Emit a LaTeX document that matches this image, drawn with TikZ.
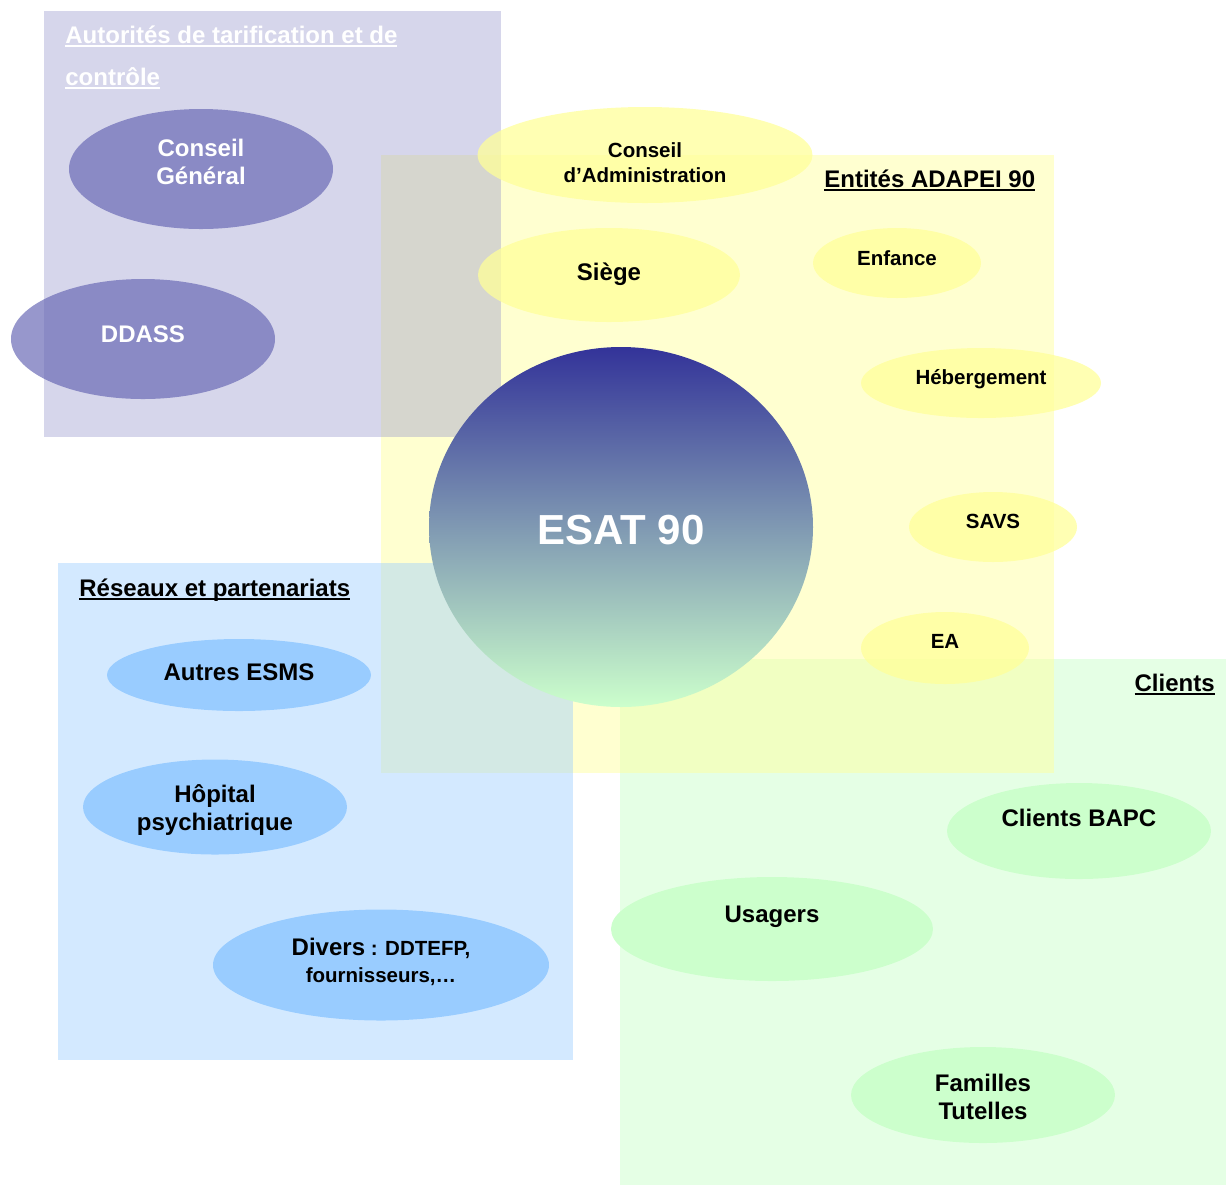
\documentclass[tikz,border=0pt]{standalone}
\usepackage{fontspec}
\setmainfont{Liberation Sans}
\usetikzlibrary{shapes.geometric}

\definecolor{authc}{HTML}{9999CC}
\definecolor{adapc}{HTML}{FFFF99}
\definecolor{resc}{HTML}{99CCFF}
\definecolor{clic}{HTML}{CCFFCC}
\definecolor{authe}{RGB}{102,102,180}
\definecolor{esattop}{HTML}{333399}

\newcommand{\ultext}[1]{\leavevmode\setbox0=\hbox{#1}\rlap{\copy0}\rule[-2pt]{\wd0}{0.9pt}}

\begin{document}
\begin{tikzpicture}[x=0.5pt,y=-0.5pt,
    bigtxt/.style={font=\fontsize{12}{14}\selectfont\bfseries},
    smalltxt/.style={font=\fontsize{10.25}{12.5}\selectfont\bfseries},
    title/.style={bigtxt,inner sep=0pt},
    blob/.style 2 args={ellipse,inner sep=0pt,minimum width=#1,minimum height=#2},
    authblob/.style={fill=authe,fill opacity=0.68},
    adapblob/.style={fill=adapc,fill opacity=0.75},
    resblob/.style={fill=resc},
    cliblob/.style={fill=clic},
    txt/.style={align=center,text opacity=1,fill=none,draw=none}]

    \useasboundingbox (0,0) rectangle (1226,1185);

    \fill[clic,fill opacity=0.5] (620,659) rectangle (1226,1185);
    \fill[adapc,fill opacity=0.46] (381,155) rectangle (1054,773);
    \fill[resc,fill opacity=0.43] (58,563) rectangle (573,1060);
    \fill[authc,fill opacity=0.4] (44,11) rectangle (501,437);

    \node[title,text=white,anchor=base west] (auth1) at (65,43) {\ultext{Autorités de tarification et de}};
    \node[title,text=white,anchor=base west] (auth2) at (65,85) {\ultext{contrôle}};
    \node[title,anchor=base west] (adap) at (824,187) {\ultext{Entités ADAPEI 90}};
    \node[title,anchor=base west] (res) at (79,596) {\ultext{Réseaux et partenariats}};
    \node[title,anchor=base east] (cli) at (1215,691) {\ultext{Clients}};

    \node[blob={132pt}{60pt},authblob,label={[txt,bigtxt,text=white,yshift=3.5pt]center:{Conseil\\Général}}] (cg) at (201,169) {};
    \node[blob={132pt}{60pt},authblob,label={[txt,bigtxt,text=white,yshift=2.5pt]center:{DDASS}}] (ddass) at (143,339) {};

    \node[blob={167.5pt}{48pt},adapblob,label={[txt,smalltxt,yshift=-3.75pt]center:{Conseil\\d’Administration}}] (ca) at (645,155) {};
    \node[blob={131pt}{47pt},adapblob,label={[txt,bigtxt,yshift=0.5pt]center:{Siège}}] (siege) at (609,275) {};
    \node[blob={84pt}{35pt},adapblob,label={[txt,smalltxt,yshift=2.5pt]center:{Enfance}}] (enf) at (897,263) {};
    \node[blob={120pt}{35pt},adapblob,label={[txt,smalltxt,yshift=2pt]center:{Hébergement}}] (heb) at (981,383) {};
    \node[blob={84pt}{35pt},adapblob,label={[txt,smalltxt,yshift=3pt]center:{SAVS}}] (savs) at (993,527) {};
    \node[blob={84pt}{36pt},adapblob,label={[txt,smalltxt,yshift=3.5pt]center:{EA}}] (ea) at (945,648) {};

    \node[blob={192pt}{180pt},top color=esattop,bottom color=clic,
          label={[txt,font=\fontsize{21}{24}\selectfont\bfseries,text=white,yshift=-1.5pt]center:{ESAT 90}}] (esat) at (621,527) {};

    \node[blob={132pt}{36pt},resblob,label={[txt,bigtxt,yshift=1.5pt]center:{Autres ESMS}}] (esms) at (239,675) {};
    \node[blob={132pt}{47.5pt},resblob,label={[txt,bigtxt,yshift=-1.5pt]center:{Hôpital\\psychiatrique}}] (hop) at (215,807) {};
    \node[blob={168pt}{55.5pt},resblob,label={[txt,font=\fontsize{10.25}{13.5}\selectfont\bfseries,yshift=1.5pt]center:{{\fontsize{12}{13.5}\selectfont Divers} : DDTEFP,\\fournisseurs,…}}] (div) at (381,965) {};

    \node[blob={132pt}{48pt},cliblob,label={[txt,bigtxt,yshift=6.5pt]center:{Clients BAPC}}] (bapc) at (1079,831) {};
    \node[blob={161pt}{52pt},cliblob,label={[txt,bigtxt,yshift=6pt]center:{Usagers}}] (usa) at (772,929) {};
    \node[blob={132pt}{48pt},cliblob,label={[txt,bigtxt,yshift=-1pt]center:{Familles\\Tutelles}}] (fam) at (983,1095) {};

\end{tikzpicture}
\end{document}
